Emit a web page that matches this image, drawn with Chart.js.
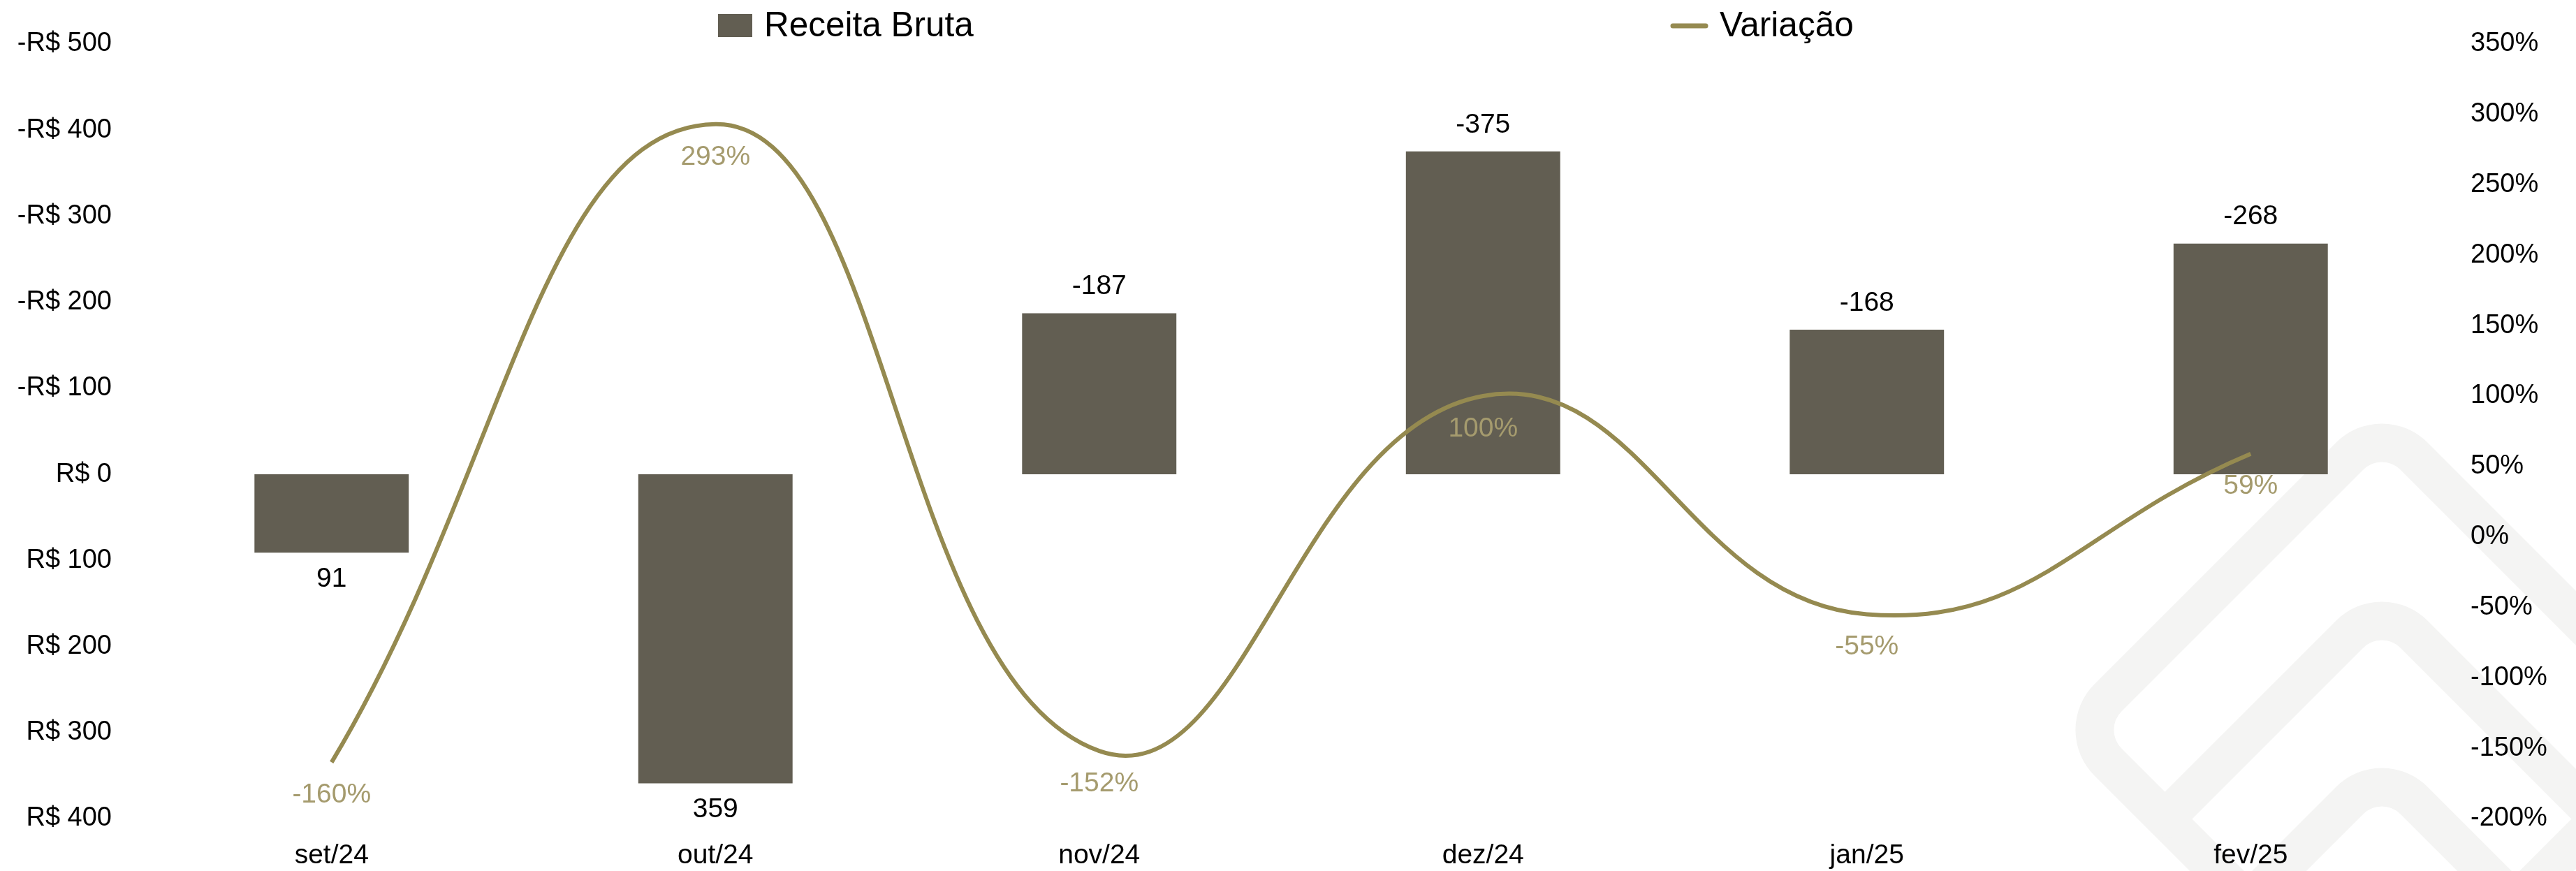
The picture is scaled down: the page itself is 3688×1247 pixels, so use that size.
<!DOCTYPE html>
<html lang="pt-BR">
<head>
<meta charset="utf-8">
<title>Receita Bruta x Variação</title>
<script src="https://cdn.jsdelivr.net/npm/chart.js@4.4.1/dist/chart.umd.min.js"></script>
<style>
  html, body { margin: 0; padding: 0; background: #fff; }
  #wrap { position: relative; width: 3688px; height: 1247px; }
</style>
</head>
<body>
<div id="wrap"><canvas id="receita-chart"></canvas></div>
<script>
// data
const meses = ['set/24', 'out/24', 'nov/24', 'dez/24', 'jan/25', 'fev/25'];
const receitaBruta = [91, 359, -187, -375, -168, -268];
const variacao = [-160, 293, -152, 100, -55, 59];

const BAR_COLOR = '#625E52';
const LINE_COLOR = '#958A50';
const PCT_COLOR = '#A59B6E';
const FONT = "'Liberation Sans', Arial, sans-serif";

const fmtReais = v => (v < 0 ? '-R$ ' + Math.abs(v) : 'R$ ' + v);

/* light logo drawn behind everything, bottom right */
const watermark = {
  id: 'watermark',
  beforeDraw(chart) {
    const { ctx, width, height } = chart;
    ctx.save();
    ctx.beginPath(); ctx.rect(0, 0, width, height); ctx.clip();
    ctx.strokeStyle = '#f4f4f3';
    ctx.lineWidth = 55;
    ctx.lineCap = 'round';
    ctx.lineJoin = 'round';
    const cx = 3410, cy = 1045, r = 438, rad = 65;
    const pts = [[cx, cy - r], [cx - r, cy], [cx, cy + r], [cx + r, cy]];
    ctx.beginPath();
    ctx.moveTo((pts[3][0] + pts[0][0]) / 2, (pts[3][1] + pts[0][1]) / 2);
    for (let i = 0; i < 4; i++) {
      const p = pts[i], q = pts[(i + 1) % 4];
      ctx.arcTo(p[0], p[1], q[0], q[1], rad);
    }
    ctx.closePath();
    ctx.stroke();
    [[862, 310], [1100, 320]].forEach(([ay, arm]) => {
      ctx.beginPath();
      ctx.moveTo(cx - arm, ay + arm);
      ctx.arcTo(cx, ay, cx + arm, ay + arm, rad);
      ctx.lineTo(cx + arm, ay + arm);
      ctx.stroke();
    });
    ctx.restore();
  }
};

/* value labels on bars and line points */
const valueLabels = {
  id: 'valueLabels',
  afterDatasetsDraw(chart) {
    const ctx = chart.ctx;
    ctx.save();
    ctx.font = '39px ' + FONT;
    ctx.textAlign = 'center';
    ctx.textBaseline = 'middle';

    const bars = chart.getDatasetMeta(0);
    ctx.fillStyle = '#000';
    bars.data.forEach((el, i) => {
      const v = receitaBruta[i];
      const y = v >= 0 ? el.y + 38 : el.y - 38;
      ctx.fillText(String(v), el.x, y);
    });

    const pts = chart.getDatasetMeta(1);
    ctx.fillStyle = PCT_COLOR;
    pts.data.forEach((el, i) => {
      ctx.fillText(variacao[i] + '%', el.x, el.y + 47);
    });
    ctx.restore();
  }
};

/* legend row at the top, items spread wide apart */
const topLegend = {
  id: 'topLegend',
  afterDraw(chart) {
    const ctx = chart.ctx;
    const ds = chart.data.datasets;
    ctx.save();
    ctx.font = '49.5px ' + FONT;
    ctx.textBaseline = 'middle';
    ctx.textAlign = 'left';

    ctx.fillStyle = BAR_COLOR;
    ctx.fillRect(1028, 20, 49, 33);
    ctx.fillStyle = '#000';
    ctx.fillText(ds[0].label, 1094, 38);

    ctx.strokeStyle = LINE_COLOR;
    ctx.lineWidth = 7;
    ctx.lineCap = 'round';
    ctx.beginPath();
    ctx.moveTo(2395, 37);
    ctx.lineTo(2442, 37);
    ctx.stroke();
    ctx.fillStyle = '#000';
    ctx.fillText(ds[1].label, 2462, 38);
    ctx.restore();
  }
};

new Chart(document.getElementById('receita-chart'), {
  type: 'bar',
  data: {
    labels: meses,
    datasets: [
      {
        type: 'bar',
        label: 'Receita Bruta',
        data: receitaBruta,
        backgroundColor: BAR_COLOR,
        yAxisID: 'y',
        categoryPercentage: 1,
        barPercentage: 0.402,
        order: 1
      },
      {
        type: 'line',
        label: 'Variação',
        data: variacao,
        borderColor: LINE_COLOR,
        backgroundColor: LINE_COLOR,
        borderWidth: 6,
        tension: 0.45,
        pointRadius: 0,
        fill: false,
        yAxisID: 'y1',
        order: 0
      }
    ]
  },
  options: {
    responsive: true,
    maintainAspectRatio: false,
    animation: false,
    layout: { padding: { top: 55, left: 0, right: 0, bottom: 0 } },
    plugins: {
      legend: { display: false },
      tooltip: { enabled: false }
    },
    scales: {
      x: {
        grid: { display: false, drawTicks: false },
        border: { display: false },
        ticks: { color: '#000', font: { family: FONT, size: 39 }, padding: 30 },
        afterFit(scale) { scale.height = 75; }
      },
      y: {
        position: 'left',
        reverse: true,
        min: -500,
        max: 400,
        grid: { display: false, drawTicks: false },
        border: { display: false },
        ticks: {
          stepSize: 100,
          color: '#000',
          font: { family: FONT, size: 38 },
          padding: 40,
          callback: v => fmtReais(v)
        },
        afterFit(scale) { scale.width = 200; }
      },
      y1: {
        position: 'right',
        min: -200,
        max: 350,
        grid: { display: false, drawTicks: false },
        border: { display: false },
        ticks: {
          stepSize: 50,
          color: '#000',
          font: { family: FONT, size: 38 },
          padding: 40,
          callback: v => v + '%'
        },
        afterFit(scale) { scale.width = 191; }
      }
    }
  },
  plugins: [watermark, valueLabels, topLegend]
});
</script>
</body>
</html>
